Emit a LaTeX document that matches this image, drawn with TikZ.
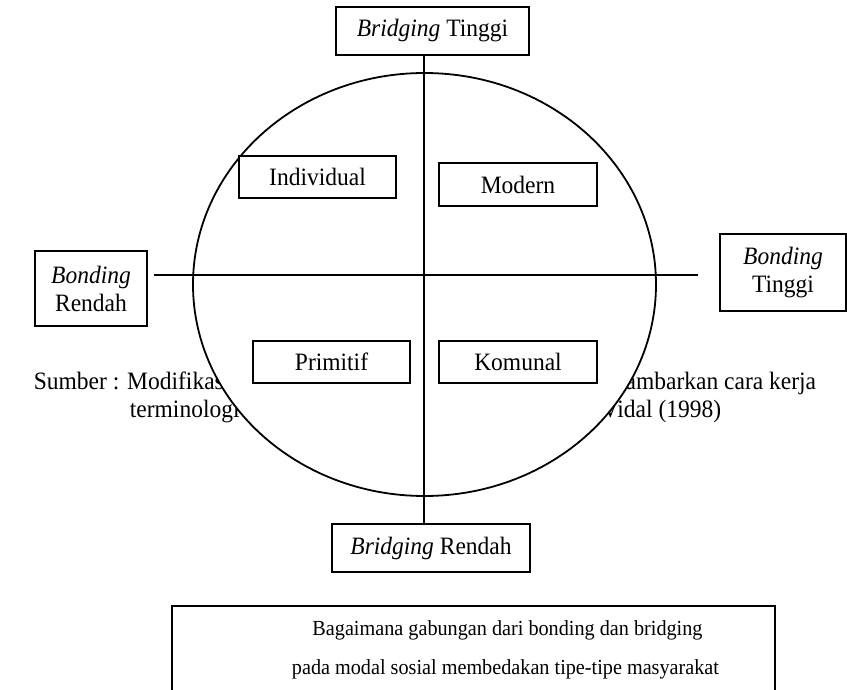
\documentclass[tikz,border=0pt]{standalone}
\usepackage{fontspec}
\setmainfont{Liberation Serif}[FakeStretch=0.94]
\usetikzlibrary{shapes.geometric}
\begin{document}
\begin{tikzpicture}[
  x=1pt, y=-1pt,
  line width=1.8pt,
  kotak/.style={draw, inner sep=0pt, align=center, fill=white,
    font=\fontsize{25}{28}\selectfont},
  sumber/.style={inner sep=0pt, font=\fontsize{25}{28}\selectfont},
  catatan/.style={inner sep=0pt, anchor=base, font=\fontsize{21.5}{24}\selectfont},
]
\useasboundingbox (0,0) rectangle (847,690);
\clip (0,0) rectangle (847,690);
% sumber (partly hidden by the oval)
\node[sumber, anchor=base west] (sumberA) at (33,389) {Sumber : Modifikasi};
\node[sumber, anchor=base east] (sumberB) at (817,389) {menggambarkan cara kerja};
\node[sumber, anchor=base west] (sumberC) at (129,417) {terminologi};
\node[sumber, anchor=base west] (sumberD) at (601,417) {Vidal (1998)};
% oval
\node[draw, ellipse, fill=white, inner sep=0pt,
  minimum width=463pt, minimum height=423pt] (oval) at (424.5,284.5) {};
% axes
\node[kotak, minimum width=193pt, minimum height=48pt] (bridgingT) at (432.5,31) {\textit{Bridging} Tinggi};
\node[kotak, minimum width=198pt, minimum height=48pt] (bridgingR) at (431,548) {\textit{Bridging} Rendah};
\node[kotak, minimum width=112pt, minimum height=75pt] (bondingR) at (91,288.5) {\textit{Bonding}\\Rendah};
\node[kotak, minimum width=126pt, minimum height=77pt] (bondingT) at (783,272.5) {\textit{Bonding}\\Tinggi};
\coordinate (pusat) at (424,275);
\coordinate (kiri) at (154,275);
\coordinate (kanan) at (698,275);
\draw (pusat |- bridgingT.south) -- (pusat |- bridgingR.north);
\draw (kiri) -- (kanan);
% tipe masyarakat
\node[kotak, minimum width=157pt, minimum height=42pt] (individual) at (317.5,177) {Individual};
\node[kotak, minimum width=158pt, minimum height=43pt] (modern) at (518,184.5) {Modern};
\node[kotak, minimum width=157pt, minimum height=42pt] (primitif) at (331.5,362) {Primitif};
\node[kotak, minimum width=158pt, minimum height=42pt] (komunal) at (518,362) {Komunal};
% keterangan
\node[draw, inner sep=0pt, anchor=north west,
  minimum width=603pt, minimum height=150pt] (ket) at (171,604.7) {};
\node[catatan] (ketA) at (507.5,635) {Bagaimana gabungan dari bonding dan bridging};
\node[catatan] (ketB) at (505.5,674) {pada modal sosial membedakan tipe-tipe masyarakat};
\end{tikzpicture}
\end{document}
